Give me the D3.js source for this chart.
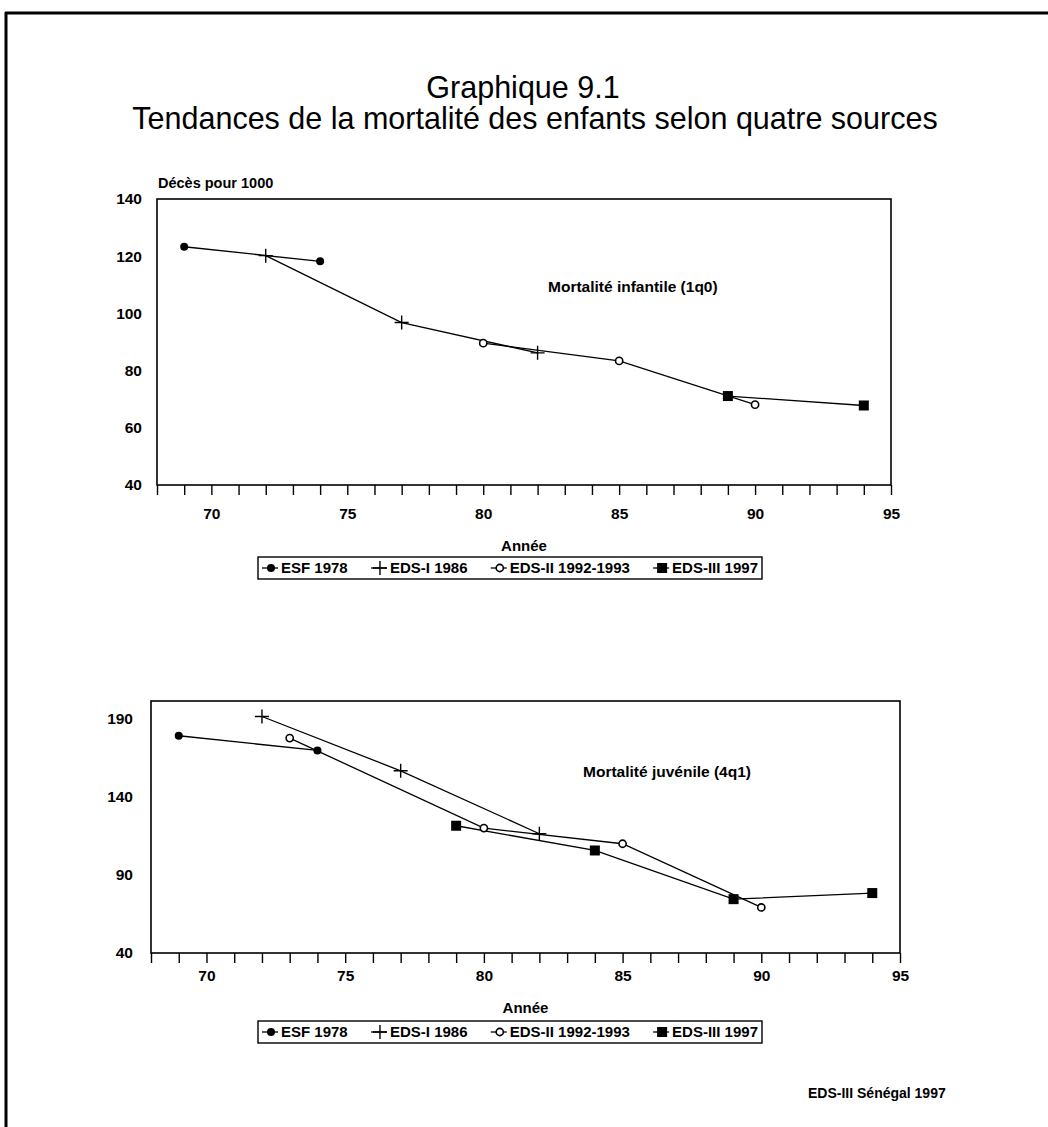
<!DOCTYPE html>
<html><head><meta charset="utf-8">
<script src="https://cdn.jsdelivr.net/npm/d3@7"></script>
<style>
html,body{margin:0;padding:0;background:#fff;}
svg{display:block;font-family:"Liberation Sans",Arial,Helvetica,sans-serif;}
</style></head>
<body>
<svg id="chart" width="1048" height="1127"></svg>
<script>
// ---------- DATA ----------
const titleLine1 = "Graphique 9.1";
const titleLine2 = "Tendances de la mortalité des enfants selon quatre sources";
const seriesNames = ["ESF 1978", "EDS-I 1986", "EDS-II 1992-1993", "EDS-III 1997"];
const xTickLabels = [70, 75, 80, 85, 90, 95];
const xTickYears = d3.range(68, 96);
const yTicksTop = [40, 60, 80, 100, 120, 140];
const yTicksBottom = [40, 90, 140, 190];

// Mortalité infantile (1q0)
const esfYearsTop = [69, 74];          const esfTop = [123.3, 118.2];
const edsIYearsTop = [72, 77, 82];     const edsITop = [120.2, 96.8, 86.2];
const edsIIYearsTop = [80, 85, 90];    const edsIITop = [89.6, 83.4, 68.1];
const edsIIIYearsTop = [89, 94];       const edsIIITop = [71.1, 67.8];

// Mortalité juvénile (4q1)
const esfYearsBot = [69, 74];              const esfBot = [178.8, 169.4];
const edsIYearsBot = [72, 77, 82];         const edsIBot = [191.1, 156.4, 116.2];
const edsIIYearsBot = [73, 80, 85, 90];    const edsIIBot = [177.3, 119.8, 109.8, 69.1];
const edsIIIYearsBot = [79, 84, 89, 94];   const edsIIIBot = [121.3, 105.5, 74.4, 78.3];

// ---------- DRAW ----------
const svg = d3.select("#chart");
const markerTypes = ["dot", "plus", "ring", "square"];

// page frame
svg.append("line").attr("x1", 5).attr("x2", 1048).attr("y1", 13).attr("y2", 13)
  .attr("stroke", "#000").attr("stroke-width", 3);
svg.append("line").attr("x1", 6).attr("x2", 6).attr("y1", 12).attr("y2", 1127)
  .attr("stroke", "#000").attr("stroke-width", 3);

svg.append("text").attr("x", 523).attr("y", 98).attr("text-anchor", "middle")
  .attr("font-size", 30.5).text(titleLine1);
svg.append("text").attr("x", 535).attr("y", 129).attr("text-anchor", "middle")
  .attr("font-size", 30.5).text(titleLine2);

function drawMarker(g, type, cx, cy) {
  if (type === "dot") {
    g.append("circle").attr("cx", cx).attr("cy", cy).attr("r", 4).attr("fill", "#000");
  } else if (type === "plus") {
    g.append("path").attr("d", `M${cx-7},${cy}H${cx+7}M${cx},${cy-7}V${cy+7}`)
      .attr("stroke", "#000").attr("stroke-width", 1.4).attr("fill", "none");
  } else if (type === "ring") {
    g.append("circle").attr("cx", cx).attr("cy", cy).attr("r", 3.6)
      .attr("fill", "#fff").attr("stroke", "#000").attr("stroke-width", 1.6);
  } else {
    g.append("rect").attr("x", cx-5).attr("y", cy-5).attr("width", 10).attr("height", 10).attr("fill", "#000");
  }
}

function drawPanel(cfg) {
  const x = d3.scaleLinear().domain([68, 95]).range([cfg.left, cfg.right]);
  const y = d3.scaleLinear().domain(cfg.yDomain).range([cfg.bottom, cfg.top]);
  const g = svg.append("g");

  g.append("rect").attr("x", cfg.left).attr("y", cfg.top)
    .attr("width", cfg.right - cfg.left).attr("height", cfg.bottom - cfg.top)
    .attr("fill", "none").attr("stroke", "#000").attr("stroke-width", 1.6);

  const xAxis = g.append("g").attr("transform", `translate(0,${cfg.bottom})`)
    .call(d3.axisBottom(x).tickValues(xTickYears).tickSize(10).tickPadding(cfg.xPad)
      .tickFormat(d => xTickLabels.includes(d) ? String(d) : ""));
  xAxis.select(".domain").remove();
  xAxis.selectAll("line").attr("stroke", "#000").attr("stroke-width", 1.4);
  xAxis.selectAll("text").attr("font-size", 15.5).attr("font-weight", "bold")
    .attr("font-family", "Liberation Sans, Arial, sans-serif").attr("fill", "#000");

  const yAxis = g.append("g").attr("transform", `translate(${cfg.left},0)`)
    .call(d3.axisLeft(y).tickValues(cfg.yTicks).tickSize(0).tickPadding(cfg.yPad).tickFormat(d3.format("d")));
  yAxis.select(".domain").remove();
  yAxis.selectAll("text").attr("font-size", 15.5).attr("font-weight", "bold")
    .attr("font-family", "Liberation Sans, Arial, sans-serif").attr("fill", "#000");

  const line = d3.line().x(d => x(d[0])).y(d => y(d[1]));
  cfg.series.forEach((s, i) => {
    const pts = s.years.map((yr, k) => [yr, s.values[k]]);
    g.append("path").attr("d", line(pts)).attr("fill", "none")
      .attr("stroke", "#000").attr("stroke-width", 1.3);
  });
  cfg.series.forEach((s, i) => {
    s.years.forEach((yr, k) => drawMarker(g, markerTypes[i], x(yr), y(s.values[k])));
  });

  g.append("text").attr("x", cfg.noteX).attr("y", cfg.noteY)
    .attr("font-size", 15.5).attr("font-weight", "bold").text(cfg.note);

  g.append("text").attr("x", (cfg.left + cfg.right) / 2).attr("y", cfg.anneeY)
    .attr("text-anchor", "middle").attr("font-size", 15).attr("font-weight", "bold").text("Année");

  // legend
  const lg = g.append("g");
  const boxL = 258, boxR = 762, by = cfg.legendY, bh = 22;
  const items = seriesNames.map((name, i) => {
    const t = lg.append("text").attr("y", by + 16).attr("font-size", 15).attr("font-weight", "bold").text(name);
    return { t, w: t.node().getComputedTextLength(), i };
  });
  const seg = 16, gapT = 3, pad = 4;
  const natural = items.reduce((a, it) => a + seg + gapT + it.w, 0);
  const gap = (boxR - boxL - 2 * pad - natural) / (items.length - 1);
  let cx = boxL + pad;
  items.forEach(it => {
    lg.append("line").attr("x1", cx).attr("x2", cx + seg).attr("y1", by + bh / 2).attr("y2", by + bh / 2)
      .attr("stroke", "#000").attr("stroke-width", 1.3);
    drawMarker(lg, markerTypes[it.i], cx + seg / 2 + 1, by + bh / 2);
    it.t.attr("x", cx + seg + gapT);
    cx += seg + gapT + it.w + gap;
  });
  lg.append("rect").attr("x", boxL).attr("y", by).attr("width", boxR - boxL).attr("height", bh)
    .attr("fill", "none").attr("stroke", "#000").attr("stroke-width", 1.4);
}

drawPanel({
  left: 157, right: 891, top: 199, bottom: 485, yDomain: [40, 140], yTicks: yTicksTop,
  xPad: 13, yPad: 15,
  series: [
    { years: esfYearsTop, values: esfTop },
    { years: edsIYearsTop, values: edsITop },
    { years: edsIIYearsTop, values: edsIITop },
    { years: edsIIIYearsTop, values: edsIIITop }
  ],
  note: "Mortalité infantile (1q0)", noteX: 548, noteY: 292,
  anneeY: 551, legendY: 557
});
svg.append("text").attr("x", 158).attr("y", 188).attr("font-size", 14.5).attr("font-weight", "bold")
  .text("Décès pour 1000");

drawPanel({
  left: 151, right: 900, top: 701, bottom: 953, yDomain: [40, 201], yTicks: yTicksBottom,
  xPad: 7, yPad: 18,
  series: [
    { years: esfYearsBot, values: esfBot },
    { years: edsIYearsBot, values: edsIBot },
    { years: edsIIYearsBot, values: edsIIBot },
    { years: edsIIIYearsBot, values: edsIIIBot }
  ],
  note: "Mortalité juvénile (4q1)", noteX: 583, noteY: 777,
  anneeY: 1013, legendY: 1021
});

svg.append("text").attr("x", 808).attr("y", 1098).attr("font-size", 14).attr("font-weight", "bold")
  .text("EDS-III Sénégal 1997");
</script>
</body></html>
